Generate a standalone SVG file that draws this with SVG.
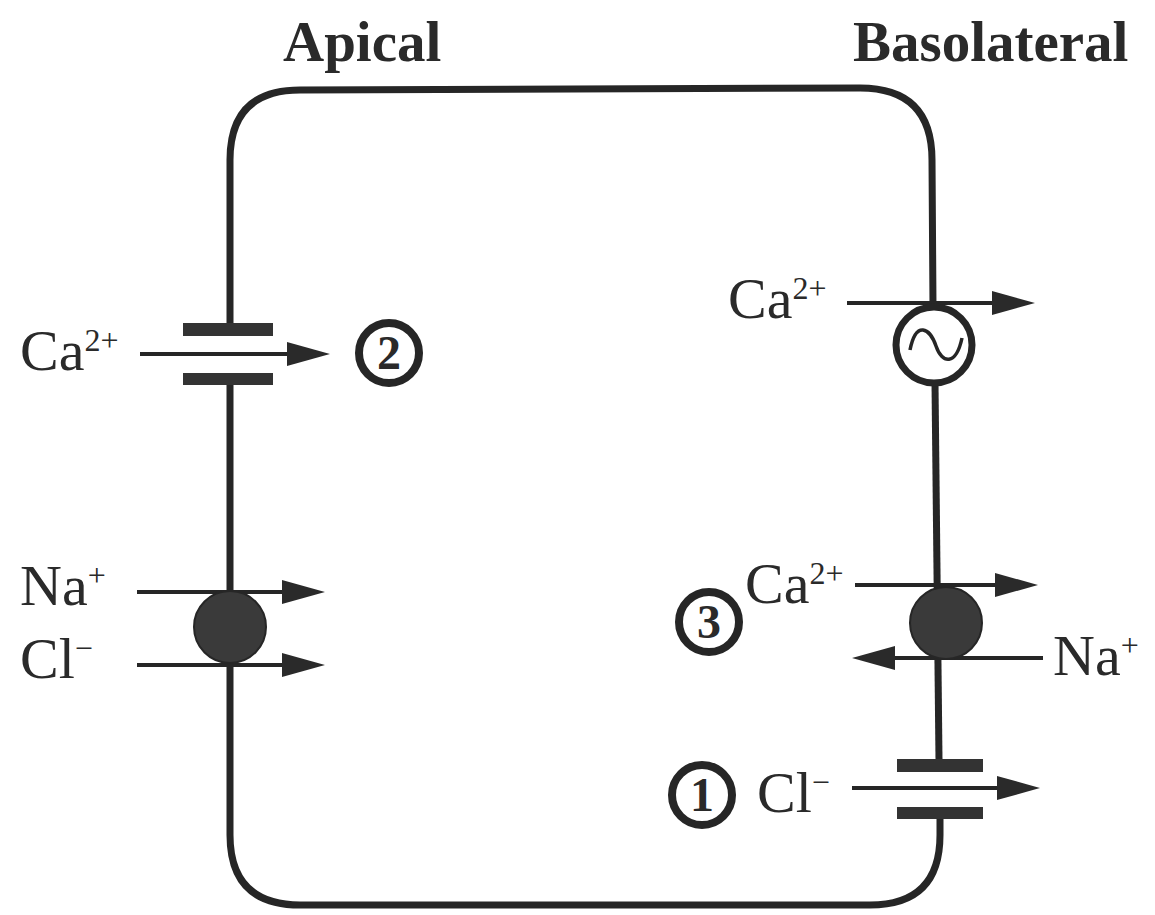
<svg xmlns="http://www.w3.org/2000/svg" width="1155" height="915" viewBox="0 0 1155 915">
<defs>
<marker id="ah" markerUnits="userSpaceOnUse" markerWidth="46" markerHeight="28" refX="20" refY="14" orient="auto">
<path d="M0,2 L43,14 L0,26 Z" fill="#2a2a2a"/>
</marker>
<style>
.wall{fill:none;stroke:#262626;stroke-width:7;stroke-linecap:butt}
.bar{fill:#333}
.arr{stroke:#262626;stroke-width:4;fill:none;marker-end:url(#ah)}
.lbl{font-family:"Liberation Serif","Times New Roman",serif;font-size:58px;fill:#2a2a2a}
.sup{font-size:32px}
.hdr{font-family:"Liberation Serif","Times New Roman",serif;font-size:57px;font-weight:bold;fill:#2a2a2a}
.num{fill:none;stroke:#262626;stroke-width:8}
.numt{font-family:"Liberation Serif","Times New Roman",serif;font-size:48px;font-weight:bold;fill:#2a2a2a;text-anchor:middle}
.pump{fill:#3a3a3a;stroke:#262626;stroke-width:2}
</style>
</defs>
<rect width="1155" height="915" fill="#ffffff"/>
<g id="labels">
<text class="hdr" x="283" y="61">Apical</text>
<text class="hdr" x="853" y="61">Basolateral</text>
</g>
<g id="cell">
<path class="wall" d="M230,325 L230,160 Q230,90 300,90 L860,88 Q932,88 932,160 L933,307"/>
<path class="wall" d="M935,383 L939,760"/>
<path class="wall" d="M940,819 L940,835 Q940,905 870,905 L300,905 Q230,905 230,835 L230,385"/>
</g>
<g id="connectors">
<line class="arr" x1="140" y1="354" x2="307" y2="354"/>
<line class="arr" x1="137" y1="592" x2="302" y2="592"/>
<line class="arr" x1="137" y1="665" x2="302" y2="665"/>
<line class="arr" x1="847" y1="303" x2="1012" y2="303"/>
<line class="arr" x1="855" y1="585" x2="1015" y2="585"/>
<line class="arr" x1="1043" y1="658" x2="875" y2="658"/>
<line class="arr" x1="852" y1="788" x2="1017" y2="788"/>
</g>
<g id="apical-ca-channel">
<rect class="bar" x="183" y="323" width="90" height="13"/>
<rect class="bar" x="183" y="373" width="90" height="12"/>
<text class="lbl" x="20" y="370">Ca<tspan class="sup" dy="-19">2+</tspan></text>
</g>
<g id="marker-2">
<circle class="num" cx="389" cy="353" r="30"/>
<text class="numt" x="389" y="369">2</text>
</g>
<g id="apical-nacl">
<circle class="pump" cx="230" cy="627" r="36"/>
<text class="lbl" x="20" y="605">Na<tspan class="sup" dy="-19">+</tspan></text>
<text class="lbl" x="20" y="678">Cl<tspan class="sup" dy="-19">−</tspan></text>
</g>
<g id="baso-ca-pump">
<circle cx="934" cy="345" r="38" fill="#fff" stroke="#262626" stroke-width="7"/>
<path d="M910,350 C916,320 930,328 936,346 C942,364 956,366 962,338" fill="none" stroke="#262626" stroke-width="3.5"/>
<text class="lbl" x="728" y="318">Ca<tspan class="sup" dy="-19">2+</tspan></text>
</g>
<g id="baso-exchanger">
<circle class="pump" cx="946" cy="623" r="36"/>
<text class="lbl" x="745" y="603">Ca<tspan class="sup" dy="-19">2+</tspan></text>
<text class="lbl" x="1053" y="675">Na<tspan class="sup" dy="-19">+</tspan></text>
</g>
<g id="marker-3">
<circle class="num" cx="709" cy="622" r="30"/>
<text class="numt" x="709" y="638">3</text>
</g>
<g id="baso-cl-channel">
<rect class="bar" x="897" y="759" width="86" height="13"/>
<rect class="bar" x="897" y="807" width="86" height="12"/>
<text class="lbl" x="757" y="812">Cl<tspan class="sup" dy="-19">−</tspan></text>
</g>
<g id="marker-1">
<circle class="num" cx="702" cy="795" r="30"/>
<text class="numt" x="702" y="811">1</text>
</g>
</svg>
